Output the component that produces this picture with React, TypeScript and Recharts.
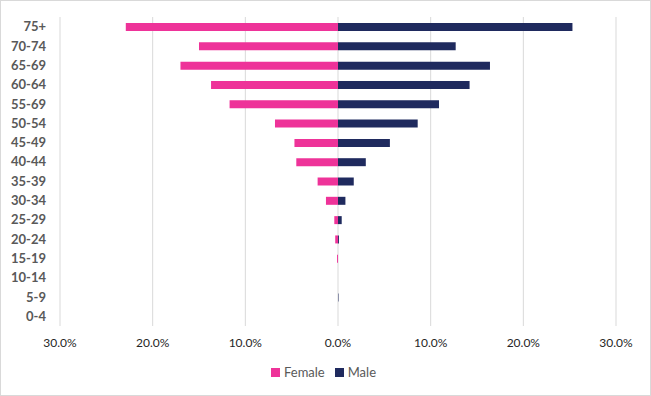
import {
  BarChart,
  Bar,
  XAxis,
  YAxis,
  CartesianGrid,
  Legend,
} from "recharts";

const ageGroups = [
  "75+", "70-74", "65-69", "60-64", "55-69", "50-54", "45-49", "40-44",
  "35-39", "30-34", "25-29", "20-24", "15-19", "10-14", "5-9", "0-4",
];
const femaleShare = [22.9, 15.0, 17.0, 13.7, 11.7, 6.8, 4.7, 4.5, 2.2, 1.3, 0.4, 0.3, 0.1, 0, 0, 0];
const maleShare = [25.3, 12.7, 16.4, 14.2, 10.9, 8.6, 5.6, 3.0, 1.7, 0.8, 0.4, 0.1, 0, 0, 0.05, 0];
const xTicks = [-30, -20, -10, 0, 10, 20, 30];

const FEMALE = "#EE3399";
const MALE = "#1F2A5E";

const rows = ageGroups.map((age, i) => ({
  age,
  female: -femaleShare[i],
  male: maleShare[i],
}));

const pct = (v: number) => `${Math.abs(v).toFixed(1)}%`;

export default function App() {
  return (
    <div
      style={{
        position: "fixed",
        left: 0,
        top: 0,
        width: 651,
        height: 396,
        boxSizing: "border-box",
        border: "1px solid #d9d9d9",
        background: "#fff",
        fontFamily: "Lato, 'Open Sans', sans-serif",
      }}
    >
      <BarChart
        width={649}
        height={394}
        data={rows}
        layout="vertical"
        stackOffset="sign"
        barSize={8}
        margin={{ top: 16, right: 34, left: -1, bottom: 15 }}
      >
        <CartesianGrid horizontal={false} stroke="#d9d9d9" />
        <XAxis
          type="number"
          domain={[-30, 30]}
          ticks={xTicks}
          tickFormatter={pct}
          tick={{ fontSize: 12, fill: "#262626" }}
          tickLine={false}
          axisLine={false}
          tickMargin={6}
          height={35}
        />
        <YAxis
          type="category"
          dataKey="age"
          width={60}
          interval={0}
          tick={{ fontSize: 13, fill: "#595959", fontWeight: 700 }}
          tickLine={false}
          axisLine={false}
          tickMargin={8}
        />
        <Legend
          verticalAlign="bottom"
          iconType="square"
          iconSize={9}
          wrapperStyle={{ left: 0, width: 655 }}
          formatter={(v) => <span style={{ color: "#595959", fontSize: 13 }}>{v}</span>}
        />
        <Bar dataKey="female" name="Female" stackId="a" fill={FEMALE} isAnimationActive={false} />
        <Bar dataKey="male" name="Male" stackId="a" fill={MALE} isAnimationActive={false} />
      </BarChart>
    </div>
  );
}
